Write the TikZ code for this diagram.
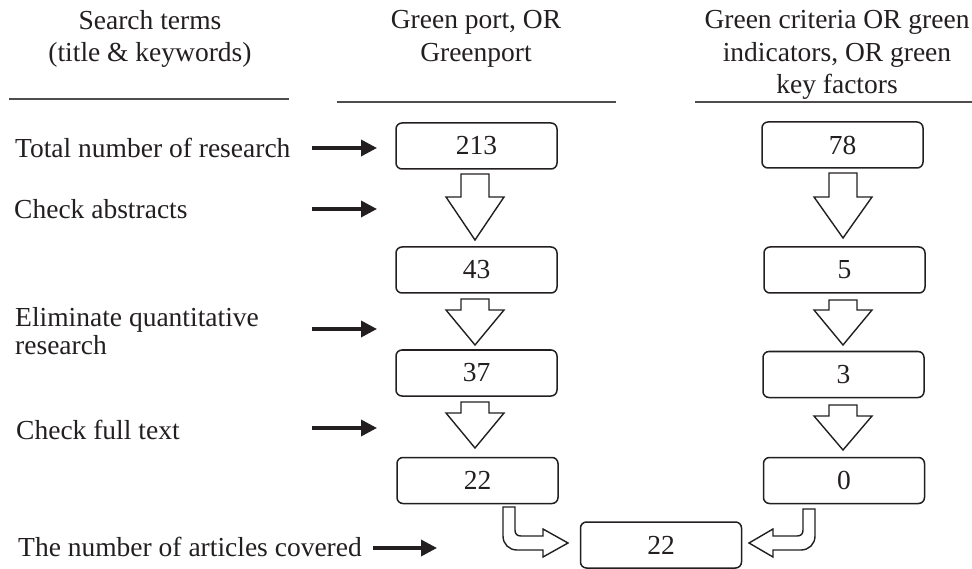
\documentclass[tikz,border=0pt]{standalone}
\usepackage{fontspec}
\setmainfont{Liberation Serif}
\usetikzlibrary{arrows.meta}
\definecolor{ink}{HTML}{231F20}
\tikzset{
  numbox/.style={draw=ink, line width=1.5pt, rounded corners=6pt, minimum width=161pt, minimum height=46pt, inner sep=0pt, text=ink, font=\fontsize{27.5}{30}\selectfont},
  hdr/.style={align=center, text=ink, font=\fontsize{27.5}{32.5}\selectfont, inner sep=0pt},
  lbl/.style={anchor=west, align=left, text=ink, font=\fontsize{27.5}{28}\selectfont, inner sep=0pt},
  rulel/.style={draw=ink!80, line width=1.3pt},
  blk/.style={draw=ink, line width=1.4pt, fill=white, line join=miter},
  thin/.style={draw=ink, line width=3.5pt, -{Triangle[length=16pt,width=16pt]}}
}
\begin{document}
\begin{tikzpicture}[x=1pt,y=-1pt]
\useasboundingbox (0,0) rectangle (972,569);
% headers
\node[hdr] (h1) at (150,39) {Search terms\\(title \& keywords)};
\node[hdr] (h2) at (476,39) {Green port, OR\\Greenport};
\node[hdr] (h3) at (837,55) {Green criteria OR green\\indicators, OR green\\key factors};
\coordinate (r1a) at (9,99);   \coordinate (r1b) at (289,99);
\coordinate (r2a) at (337,102); \coordinate (r2b) at (616,102);
\coordinate (r3a) at (695,102); \coordinate (r3b) at (972,102);
\draw[rulel] (r1a) -- (r1b);
\draw[rulel] (r2a) -- (r2b);
\draw[rulel] (r3a) -- (r3b);
% left labels
\node[lbl] (l1) at (15,148) {Total number of research};
\node[lbl] (l2) at (14,209) {Check abstracts};
\node[lbl] (l3) at (15,331) {Eliminate quantitative\\research};
\node[lbl] (l4) at (16,430) {Check full text};
\node[lbl] (l5) at (18,547) {The number of articles covered};
% thin arrows
\coordinate (a1s) at (312,148); \coordinate (a1e) at (377,148);
\coordinate (a2s) at (312,209); \coordinate (a2e) at (377,209);
\coordinate (a3s) at (312,329); \coordinate (a3e) at (377,329);
\coordinate (a4s) at (312,428); \coordinate (a4e) at (377,428);
\coordinate (a5s) at (373,548); \coordinate (a5e) at (437,548);
\draw[thin] (a1s) -- (a1e);
\draw[thin] (a2s) -- (a2e);
\draw[thin] (a3s) -- (a3e);
\draw[thin] (a4s) -- (a4e);
\draw[thin] (a5s) -- (a5e);
% column 1 boxes
\node[numbox] (c1a) at (476.5,146) {213};
\node[numbox] (c1b) at (476.5,270) {43};
\node[numbox] (c1c) at (476.5,373) {37};
\node[numbox] (c1d) at (477.5,480.5) {22};
% column 2 boxes
\node[numbox] (c2a) at (842.5,145) {78};
\node[numbox] (c2b) at (844.5,270) {5};
\node[numbox] (c2c) at (843.5,374.5) {3};
\node[numbox] (c2d) at (844,480.5) {0};
% final
\node[numbox] (fin) at (661,545) {22};
% block arrows column 1 (x=475)
\draw[blk] (461,174) -- (489,174) -- (489,197) -- (504,197) -- (475,240) -- (446,197) -- (461,197) -- cycle;
\draw[blk] (461,299) -- (489,299) -- (489,310) -- (504,310) -- (475,345) -- (446,310) -- (461,310) -- cycle;
\draw[blk] (461,402) -- (489,402) -- (489,413) -- (504,413) -- (475,448) -- (446,413) -- (461,413) -- cycle;
% block arrows column 2 (x=843)
\draw[blk] (829,173) -- (857,173) -- (857,197) -- (872,197) -- (843,238) -- (814,197) -- (829,197) -- cycle;
\draw[blk] (829,300) -- (857,300) -- (857,310) -- (872,310) -- (843,345) -- (814,310) -- (829,310) -- cycle;
\draw[blk] (829,405) -- (857,405) -- (857,416) -- (872,416) -- (843,450) -- (814,416) -- (829,416) -- cycle;
% bent arrows
\draw[blk] (503,507) -- (515,507) -- (515,530) .. controls (515,534) and (517,536) .. (521,536) -- (543,536) -- (543,529) -- (568,543) -- (543,557) -- (543,550) -- (517,550) .. controls (509,550) and (503,544) .. (503,536) -- cycle;
\draw[blk] (815,509) -- (803,509) -- (803,530) .. controls (803,534) and (801,536) .. (797,536) -- (773,536) -- (773,529) -- (749,543) -- (773,557) -- (773,550) -- (801,550) .. controls (809,550) and (815,544) .. (815,536) -- cycle;
\end{tikzpicture}
\end{document}
